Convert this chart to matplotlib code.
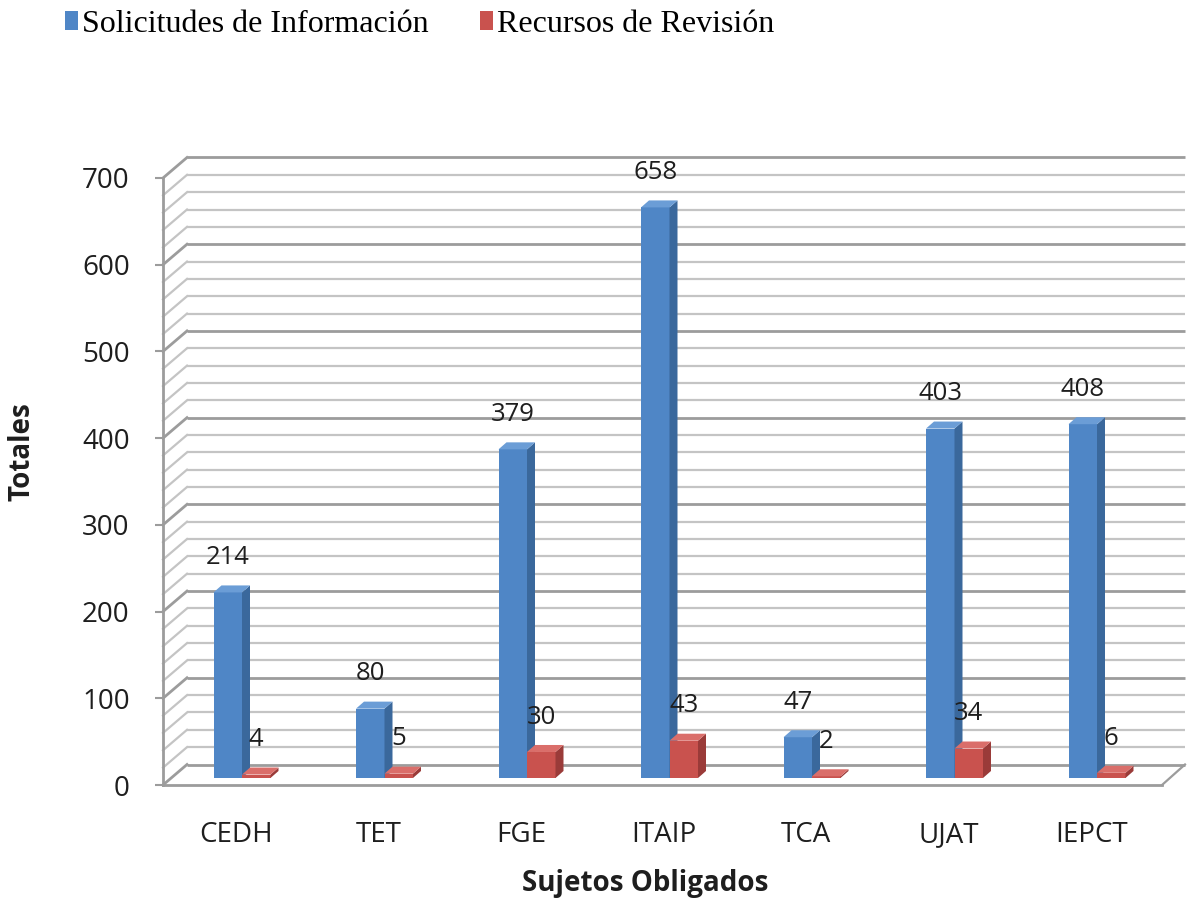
import matplotlib
matplotlib.use("Agg")
import matplotlib.pyplot as plt
from matplotlib.patches import Polygon, Patch

categories = ["CEDH", "TET", "FGE", "ITAIP", "TCA", "UJAT", "IEPCT"]
solicitudes = [214, 80, 379, 658, 47, 403, 408]
recursos = [4, 5, 30, 43, 2, 34, 6]
series_names = ["Solicitudes de Información", "Recursos de Revisión"]
y_ticks = [0, 100, 200, 300, 400, 500, 600, 700]

# front, side, top shades
BLUE = ("#4f86c6", "#3a689c", "#6b9dd6")
RED = ("#c9524e", "#9a3b39", "#da6e6a")

plt.rcParams["font.family"] = ["Open Sans", "DejaVu Sans"]
TXT = "#1e1e1e"

W, H = 1189, 901
fig = plt.figure(figsize=(W / 100, H / 100), dpi=100)

# axes laid out in pixels of the reference
x0_px, x1_px, y0_px, y1_px = 163, 1187, 785, 155
ax = fig.add_axes([x0_px / W, (H - y0_px) / H, (x1_px - x0_px) / W, (y0_px - y1_px) / H])
px_per_unit = (785 - 178) / 700
px_per_cat = 142.5
origin_px = 242
xmin = (x0_px - origin_px) / px_per_cat
xmax = (x1_px - origin_px) / px_per_cat
ax.set_xlim(xmin, xmax)
ax.set_ylim(0, (y0_px - y1_px) / px_per_unit)


def dxu(px):
    return px / px_per_cat


def dyu(px):
    return px / px_per_unit


wall_dx, wall_dy = dxu(24), dyu(20.5)
bar_w = dxu(28.5)
bar_dx, bar_dy = dxu(8), dyu(7)
base = dyu(7)
floor_front_right = (1162 - origin_px) / px_per_cat
wall_right = (1185 - origin_px) / px_per_cat

# walls and gridlines
for v in range(0, 701, 20):
    major = v % 100 == 0
    col = "#9c9c9c" if major else "#c4c4c4"
    lw = 2.0 if major else 1.6
    ax.plot([xmin + wall_dx, wall_right], [v + wall_dy] * 2, color=col, lw=lw,
            clip_on=False, zorder=1, solid_capstyle="butt")
    ax.plot([xmin, xmin + wall_dx], [v, v + wall_dy], color=col, lw=lw,
            clip_on=False, zorder=1)

# floor edges and front axis
edge = "#9c9c9c"
ax.plot([xmin, floor_front_right], [0, 0], color=edge, lw=2, clip_on=False, zorder=1)
ax.plot([floor_front_right, wall_right], [0, wall_dy], color=edge, lw=1.6, clip_on=False, zorder=1)
ax.plot([xmin, xmin], [0, 700], color=edge, lw=2, clip_on=False, zorder=1)


def bar3d(x, v, shades):
    front, side, top = shades
    ax.bar(x, v, width=bar_w, bottom=base, align="edge", color=front,
           edgecolor="none", zorder=3)
    t = base + v
    ax.add_patch(Polygon([(x + bar_w, base), (x + bar_w + bar_dx, base + bar_dy),
                          (x + bar_w + bar_dx, t + bar_dy), (x + bar_w, t)],
                         closed=True, facecolor=side, edgecolor="none", zorder=3))
    ax.add_patch(Polygon([(x, t), (x + bar_w, t), (x + bar_w + bar_dx, t + bar_dy),
                          (x + bar_dx, t + bar_dy)],
                         closed=True, facecolor=top, edgecolor="none", zorder=3))
    ax.annotate(str(v), (x + bar_w / 2, t), xytext=(0, 16), textcoords="offset points",
                ha="center", va="bottom", fontsize=18.5, color=TXT, zorder=5)


for i, (s, r) in enumerate(zip(solicitudes, recursos)):
    bar3d(i - bar_w, s, BLUE)
    bar3d(i, r, RED)

for sp in ax.spines.values():
    sp.set_visible(False)
ax.patch.set_visible(False)

ax.set_yticks(y_ticks)
ax.set_yticklabels([str(t) for t in y_ticks], fontsize=20, color=TXT)
ax.tick_params(axis="y", length=6, width=1.5, color=edge, pad=18)
ax.set_xticks([i - 0.04 for i in range(len(categories))])
ax.set_xticklabels(categories, fontsize=20, color=TXT)
ax.tick_params(axis="x", length=0, pad=26)

fig.text(645 / W, 1 - 884 / H, "Sujetos Obligados", ha="center", va="center",
         fontsize=20, fontweight="bold", color=TXT)
fig.text(22 / W, 1 - 452 / H, "Totales", ha="center", va="center", rotation=90,
         fontsize=20, fontweight="bold", color=TXT)

handles = [Patch(facecolor=BLUE[0], edgecolor="none"), Patch(facecolor=RED[0], edgecolor="none")]
fig.legend(handles, series_names, loc="upper left", bbox_to_anchor=(65 / W, 1 - 10 / H),
           ncol=2, frameon=False, handlelength=0.4, handleheight=0.55,
           handletextpad=0.14, columnspacing=1.6, borderaxespad=0, borderpad=0,
           prop={"family": "Liberation Serif", "size": 23})

fig.savefig("out.png", dpi=100)
